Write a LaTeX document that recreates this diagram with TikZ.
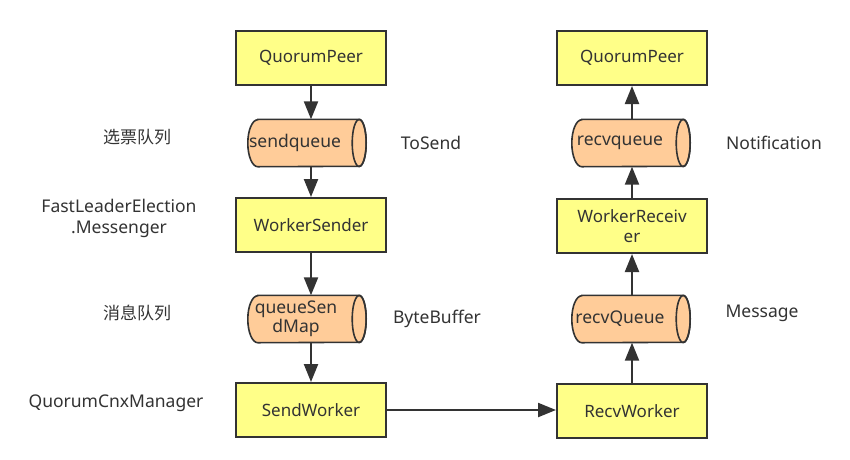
\documentclass[tikz,border=0pt]{standalone}
\usepackage{fontspec}
\setmainfont{Noto Sans}
\newfontfamily\cjk{Noto Sans CJK SC}
\usetikzlibrary{arrows.meta}
\definecolor{boxfill}{HTML}{FFFF88}
\definecolor{cylfill}{HTML}{FFCC99}
\definecolor{edge}{HTML}{333333}
\definecolor{txt}{HTML}{333333}
\tikzset{
  box/.style={draw=edge, line width=2pt, fill=boxfill, minimum width=150pt, minimum height=54pt, inner sep=0pt, text=txt, font=\fontsize{17}{20}\selectfont, align=center},
  cylslot/.style={draw=none, fill=none, minimum width=118pt, minimum height=47pt, inner sep=0pt},
  cylline/.style={draw=edge, line width=1.6pt, fill=cylfill},
  ctext/.style={text=txt, font=\fontsize{17.5}{19}\selectfont, align=center, inner sep=0pt},
  lbl/.style={text=txt, font=\fontsize{17.5}{21}\selectfont, align=center, inner sep=0pt},
  cjklbl/.style={text=txt, font=\cjk\fontsize{17}{20}\selectfont, inner sep=0pt},
  conn/.style={draw=edge, line width=2.2pt, -{Triangle[width=14pt,length=18pt]}}
}
\newcommand{\mycyl}[1]{%
  \draw[cylline] ([xshift=10pt]#1.north west) -- ([xshift=-7pt]#1.north east)
     arc[start angle=90, end angle=-90, x radius=7pt, y radius=23.5pt]
     -- ([xshift=10pt]#1.south west)
     arc[start angle=270, end angle=90, x radius=10pt, y radius=23.5pt] -- cycle;
  \draw[cylline, fill=none] ([xshift=-7pt]#1.east) ellipse[x radius=7pt, y radius=23.5pt];
}
\begin{document}
\begin{tikzpicture}[x=1pt,y=-1pt]
\useasboundingbox (0,0) rectangle (850,459);
% left column
\node[box] (qpl) at (311,58) {QuorumPeer};
\node[cylslot] (sq) at (307,143) {};
\mycyl{sq}
\node[ctext] (sqt) at (295,143) {sendqueue};
\node[box] (ws) at (311,225) {WorkerSender};
\node[cylslot] (qsm) at (307,319) {};
\mycyl{qsm}
\node[ctext] (qsmt) at (296,319) {queueSen\\dMap};
\node[box] (sw) at (311,410) {SendWorker};
% right column
\node[box] (qpr) at (632,58) {QuorumPeer};
\node[cylslot] (rq) at (631,143) {};
\mycyl{rq}
\node[ctext] (rqt) at (620,143) {recvqueue};
\node[box] (wr) at (632,226) {WorkerReceiv\\er};
\node[cylslot] (rQ) at (631,319) {};
\mycyl{rQ}
\node[ctext] (rQt) at (620,319) {recvQueue};
\node[box] (rw) at (632,411) {RecvWorker};
% side labels
\node[cjklbl] (l1) at (137,137) {选票队列};
\node[lbl] (l2) at (119,218) {FastLeaderElection\\.Messenger};
\node[cjklbl] (l3) at (137,313) {消息队列};
\node[lbl] (l4) at (116,403) {QuorumCnxManager};
\node[lbl] (l5) at (431,143) {ToSend};
\node[lbl] (l6) at (437,319) {ByteBuffer};
\node[lbl] (l7) at (774,143) {Notification};
\node[lbl] (l8) at (762,313) {Message};
% connectors
\draw[conn] (qpl.south) -- (qpl.south |- sq.north);
\draw[conn] (qpl.south |- sq.south) -- (ws.north);
\draw[conn] (ws.south) -- (ws.south |- qsm.north);
\draw[conn] (ws.south |- qsm.south) -- (sw.north);
\draw[conn] (sw.east) -- (sw.east -| rw.west);
\draw[conn] (rw.north) -- (rw.north |- rQ.south);
\draw[conn] (rw.north |- rQ.north) -- (wr.south);
\draw[conn] (wr.north) -- (wr.north |- rq.south);
\draw[conn] (wr.north |- rq.north) -- (qpr.south);
\end{tikzpicture}
\end{document}
